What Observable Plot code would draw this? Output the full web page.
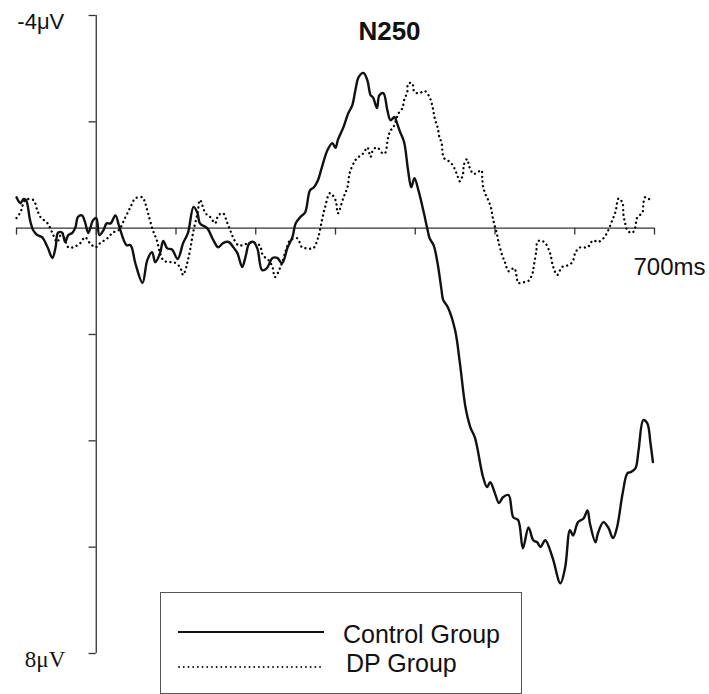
<!DOCTYPE html>
<html><head><meta charset="utf-8">
<script src="https://cdn.jsdelivr.net/npm/d3@7"></script>
<script src="https://cdn.jsdelivr.net/npm/@observablehq/plot@0.6"></script>
<style>
body{margin:0;background:#fff;}
#wrap{position:relative;width:709px;height:694px;overflow:hidden;}
#legend{position:absolute;left:160px;top:592px;width:360px;height:100px;border:1px solid #555;background:#fff;}
</style></head><body><div id="wrap"></div>
<script>
// time (ms), amplitude (µV)
const controlGroup = [
[-100,-0.58],[-95,-0.47],[-91,-0.55],[-88,-0.53],[-83,-0.15],[-79,0.04],[-74,0.13],[-68,0.17],[-61,0.36],[-55,0.56],[-51,0.36],[-48,0.09],[-43,0.08],[-39,0.26],[-35,0.13],[-30,0.09],[-26,-0.02],[-23,-0.21],[-18,-0.24],[-14,-0.11],[-10,0.09],[-4,-0.15],[0,-0.19],[4,0.13],[9,0.04],[13,-0.09],[18,-0.09],[24,-0.24],[29,-0.02],[38,0.32],[43,0.32],[49,0.66],[58,1.03],[64,0.60],[70,0.45],[74,0.64],[80,0.47],[84,0.24],[89,0.38],[95,0.40],[102,0.58],[109,0.28],[115,0.09],[122,-0.40],[127,-0.28],[130,-0.09],[139,0],[147,0.23],[153,0.36],[159,0.28],[166,0.26],[172,0.36],[177,0.47],[183,0.73],[187,0.55],[192,0.28],[197,0.26],[202,0.38],[208,0.79],[214,0.75],[221,0.56],[227,0.56],[233,0.66],[240,0.36],[246,0.17],[250,-0.09],[256,-0.21],[262,-0.30],[268,-0.71],[273,-0.77],[278,-0.90],[283,-1.15],[290,-1.47],[296,-1.60],[300,-1.51],[303,-1.66],[310,-1.90],[316,-2.16],[321,-2.31],[325,-2.60],[329,-2.84],[335,-2.92],[340,-2.78],[344,-2.50],[347,-2.46],[352,-2.26],[355,-2.50],[360,-2.54],[365,-2.22],[369,-2.03],[374,-2.09],[377,-1.98],[381,-1.81],[386,-1.62],[391,-1.09],[395,-0.77],[399,-0.94],[404,-0.71],[410,-0.34],[415,0],[418,0.19],[423,0.32],[428,0.66],[433,1.17],[435,1.35],[441,1.49],[450,1.92],[456,2.54],[463,3.37],[469,3.74],[475,3.95],[485,4.68],[490,4.87],[494,4.78],[500,4.99],[505,5.17],[510,5.06],[517,5.02],[523,5.44],[529,5.49],[535,6.02],[542,5.63],[548,5.87],[553,5.91],[557,6.00],[563,5.87],[572,6.19],[582,6.68],[588,6.38],[594,5.68],[598,5.78],[604,5.53],[611,5.46],[616,5.31],[619,5.55],[626,5.91],[629,5.74],[636,5.53],[642,5.63],[648,5.83],[653,5.63],[660,4.99],[666,4.61],[670,4.59],[676,4.52],[680,4.18],[686,3.61],[691,3.67],[695,4.05],[698,4.40]
];
const dpGroup = [
[-100,-0.19],[-95,-0.30],[-89,-0.53],[-79,-0.53],[-74,-0.34],[-70,-0.21],[-61,-0.09],[-55,0.09],[-49,0.26],[-43,0.09],[-35,0.36],[-29,0.36],[-20,0.28],[-14,0.17],[-8,0.28],[-1,0.36],[5,0.28],[14,0.19],[21,0.08],[28,0.04],[36,-0.19],[43,-0.40],[49,-0.56],[58,-0.58],[61,-0.49],[65,-0.28],[71,0.04],[76,0.23],[80,0.47],[84,0.60],[90,0.64],[97,0.64],[105,0.73],[109,0.88],[114,0.66],[118,0.38],[122,0.04],[127,-0.28],[130,-0.53],[137,-0.28],[143,-0.21],[149,-0.09],[153,-0.24],[159,-0.28],[164,-0.11],[168,0.04],[172,0.19],[178,0.32],[184,0.32],[191,0.28],[197,0.28],[202,0.28],[206,0.36],[209,0.51],[216,0.60],[221,0.73],[224,0.92],[231,0.73],[238,0.41],[243,0.23],[252,0.19],[258,0.36],[265,0.38],[272,0.38],[278,0.19],[283,-0.15],[287,-0.40],[293,-0.66],[300,-0.53],[303,-0.28],[310,-0.58],[315,-0.77],[318,-1.05],[325,-1.28],[329,-1.34],[335,-1.41],[340,-1.52],[344,-1.34],[347,-1.47],[352,-1.52],[359,-1.41],[362,-1.41],[366,-1.71],[369,-1.84],[372,-1.88],[379,-2.16],[384,-2.26],[386,-2.41],[390,-2.56],[391,-2.71],[396,-2.73],[399,-2.56],[405,-2.54],[412,-2.58],[418,-2.46],[421,-2.33],[423,-2.18],[425,-2.03],[428,-1.90],[430,-1.73],[433,-1.60],[436,-1.32],[444,-1.24],[449,-1.13],[453,-0.98],[456,-0.88],[460,-1.03],[461,-1.19],[465,-1.30],[468,-1.15],[473,-1.02],[478,-1.05],[483,-1.09],[484,-0.94],[485,-0.79],[488,-0.64],[492,-0.51],[495,-0.38],[497,-0.21],[499,-0.08],[502,0.08],[504,0.23],[509,0.51],[513,0.66],[517,0.81],[524,0.75],[527,0.90],[529,1.03],[535,1.02],[542,0.99],[547,0.85],[549,0.68],[552,0.40],[553,0.26],[557,0.23],[563,0.28],[569,0.47],[573,0.73],[578,0.88],[584,0.73],[591,0.70],[597,0.64],[601,0.45],[607,0.36],[616,0.36],[623,0.23],[629,0.26],[636,0.19],[642,0.04],[647,-0.15],[651,-0.30],[655,-0.56],[660,-0.47],[661,-0.26],[663,-0.11],[666,0.04],[672,0.09],[676,-0.02],[678,-0.19],[685,-0.30],[686,-0.45],[688,-0.58],[692,-0.56],[697,-0.49]
];
const xTicks = [-100, 0, 100, 200, 300, 400, 500, 600, 700];
const yTicks = [-4, -2, 0, 2, 4, 6, 8];
const xDomain = [-100, 700];
const yDomain = [-4, 8];
const topLabel = [{v: -4, label: "-4\u03bcV"}];
const bottomLabel = [{v: 8, label: "8\u03bcV"}];
const xEndLabel = [{t: 700, label: "700ms"}];
const title = "N250";
const seriesNames = ["Control Group", "DP Group"];

const sans = "'Liberation Sans', Arial, sans-serif";
const serif = "'Liberation Serif', 'Times New Roman', serif";
const axisColor = "#333";

const chart = Plot.plot({
  width: 709, height: 694,
  marginLeft: 16, marginRight: 55, marginTop: 15, marginBottom: 41,
  x: {domain: xDomain, axis: null},
  y: {domain: yDomain, reverse: true, axis: null},
  style: {background: "white", overflow: "visible"},
  marks: [
    Plot.ruleY([0], {x1: xDomain[0], x2: xDomain[1], stroke: axisColor, strokeWidth: 1.3}),
    Plot.ruleX([0], {y1: yDomain[0], y2: yDomain[1], stroke: axisColor, strokeWidth: 1.3}),
    Plot.ruleX(xTicks, {x: d => d, y1: 0, y2: 0.13, stroke: axisColor, strokeWidth: 1.3}),
    Plot.ruleY(yTicks, {y: d => d, x1: -9, x2: 0, stroke: axisColor, strokeWidth: 1.3}),
    Plot.line(dpGroup, {x: d => d[0], y: d => d[1], curve: "catmull-rom", stroke: "#000", strokeWidth: 2.3, strokeDasharray: "0.1 4.6", strokeLinecap: "round"}),
    Plot.line(controlGroup, {x: d => d[0], y: d => d[1], curve: "catmull-rom", stroke: "#111", strokeWidth: 2.4, strokeLinejoin: "round"}),
    Plot.text(topLabel, {x: 0, y: "v", text: "label", textAnchor: "end", lineAnchor: "middle", dx: -32, dy: 6, fontSize: 22, fontFamily: sans, fill: "#111"}),
    Plot.text(bottomLabel, {x: 0, y: "v", text: "label", textAnchor: "end", lineAnchor: "middle", dx: -31, dy: 6, fontSize: 23, fontFamily: serif, fill: "#111"}),
    Plot.text(xEndLabel, {x: "t", y: 0, text: "label", textAnchor: "start", lineAnchor: "middle", dx: -21, dy: 39, fontSize: 24, fontFamily: sans, fill: "#111"}),
    Plot.text([title], {frameAnchor: "top", text: d => d, dx: 54, dy: 16, lineAnchor: "middle", fontSize: 26, fontWeight: "bold", fontFamily: sans, fill: "#111"})
  ]
});
const wrap = document.getElementById("wrap");
wrap.appendChild(chart);

// legend
const legend = document.createElement("div");
legend.id = "legend";
const lsvg = d3.create("svg").attr("width", 360).attr("height", 100);
lsvg.append("line").attr("x1", 17).attr("x2", 163).attr("y1", 39).attr("y2", 39)
  .attr("stroke", "#111").attr("stroke-width", 2);
lsvg.append("line").attr("x1", 18).attr("x2", 160).attr("y1", 74).attr("y2", 74)
  .attr("stroke", "#111").attr("stroke-width", 1.8).attr("stroke-dasharray", "0.1 4.6").attr("stroke-linecap", "round");
lsvg.append("text").attr("x", 182).attr("y", 50).text(seriesNames[0])
  .attr("font-family", sans).attr("font-size", 25).attr("fill", "#111");
lsvg.append("text").attr("x", 185).attr("y", 79).text(seriesNames[1])
  .attr("font-family", sans).attr("font-size", 25).attr("fill", "#111");
legend.appendChild(lsvg.node());
wrap.appendChild(legend);
</script>
</body></html>
